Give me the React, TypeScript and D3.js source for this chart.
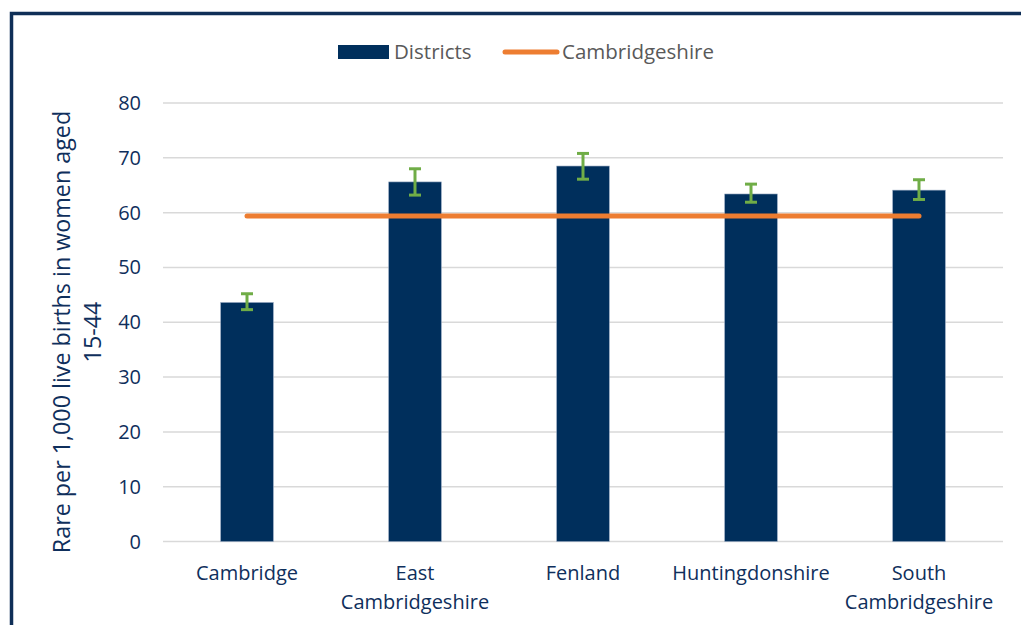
import React from "react";
import * as d3 from "d3";

const categories: string[][] = [
  ["Cambridge"],
  ["East", "Cambridgeshire"],
  ["Fenland"],
  ["Huntingdonshire"],
  ["South", "Cambridgeshire"],
];
const districts = [43.6, 65.6, 68.5, 63.4, 64.1];
const errLow = [42.3, 63.2, 66.1, 61.9, 62.4];
const errHigh = [45.2, 68.0, 70.8, 65.2, 66.0];
const cambridgeshire = [59.4, 59.4, 59.4, 59.4, 59.4];
const yTicks = [0, 10, 20, 30, 40, 50, 60, 70, 80];
const yTitle = ["Rare per 1,000 live births in women aged", "15-44"];

const NAVY = "#002f5c";
const TEXT = "#0f2f5c";
const ORANGE = "#ed7d31";
const GREEN = "#70ad47";
const FONT = "'Open Sans', sans-serif";

export default function App() {
  const W = 1021, H = 625;
  const ids = categories.map((_, i) => String(i));
  const x = d3.scaleBand<string>().domain(ids).range([163, 1003]).paddingInner(0.687).paddingOuter(0.3435);
  const y = d3.scaleLinear().domain([0, 80]).range([541.5, 103]);
  const bw = x.bandwidth();
  const cx = (i: number) => (x(String(i)) as number) + bw / 2;
  const line = d3.line<number>().x((_, i) => cx(i)).y((v) => y(v));

  return (
    <svg width={W} height={H} style={{ position: "absolute", left: 0, top: 0, background: "#fff" }} fontFamily={FONT}>
      <rect x={0} y={0} width={W} height={H} fill="#fff" />
      <rect x={11.5} y={13.5} width={W + 20} height={H + 20} fill="none" stroke="#0f2f57" strokeWidth={3.5} />
      {/* legend */}
      <rect x={338} y={45} width={51} height={14} fill={NAVY} />
      <text x={394} y={59} fontSize={20.5} fill="#595959">Districts</text>
      <line x1={505} x2={557} y1={52} y2={52} stroke={ORANGE} strokeWidth={5} strokeLinecap="round" />
      <text x={562} y={59} fontSize={20.5} fill="#595959">Cambridgeshire</text>
      {/* grid */}
      {yTicks.map((t) => (
        <g key={t}>
          <line x1={163} x2={1003} y1={y(t)} y2={y(t)} stroke="#d9d9d9" strokeWidth={1.5} />
          <text x={141} y={y(t) + 7} fontSize={20} fill={TEXT} textAnchor="end">{t}</text>
        </g>
      ))}
      {/* bars */}
      {districts.map((v, i) => (
        <rect key={i} x={x(String(i))} y={y(v)} width={bw} height={y(0) - y(v)} fill={NAVY} stroke="#8fa3bd" strokeWidth={0.6} />
      ))}
      {/* error bars */}
      {districts.map((_, i) => (
        <g key={i} stroke={GREEN} strokeWidth={3}>
          <line x1={cx(i)} x2={cx(i)} y1={y(errLow[i])} y2={y(errHigh[i])} />
          <line x1={cx(i) - 6} x2={cx(i) + 6} y1={y(errLow[i])} y2={y(errLow[i])} />
          <line x1={cx(i) - 6} x2={cx(i) + 6} y1={y(errHigh[i])} y2={y(errHigh[i])} />
        </g>
      ))}
      <path d={line(cambridgeshire) || ""} fill="none" stroke={ORANGE} strokeWidth={5} strokeLinecap="round" />
      {/* x labels */}
      {categories.map((lines, i) => (
        <text key={i} x={cx(i)} y={580} fontSize={20} fill={TEXT} textAnchor="middle">
          {lines.map((l, j) => (
            <tspan key={j} x={cx(i)} dy={j === 0 ? 0 : 29}>{l}</tspan>
          ))}
        </text>
      ))}
      {/* y title */}
      <text transform="translate(62,332) rotate(-90)" fontSize={23.3} fill={TEXT} textAnchor="middle">
        {yTitle.map((l, j) => (
          <tspan key={j} x={0} y={j === 0 ? 8 : 39}>{l}</tspan>
        ))}
      </text>
    </svg>
  );
}
